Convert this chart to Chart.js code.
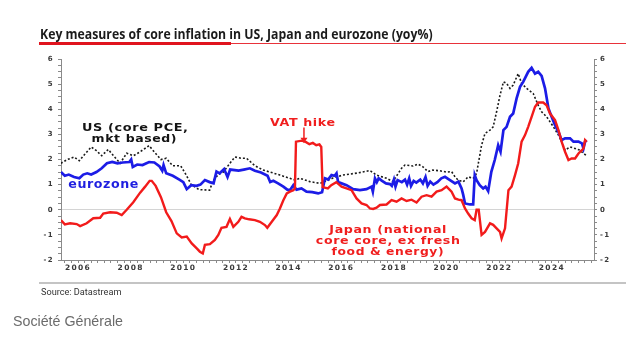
<!DOCTYPE html>
<html><head><meta charset="utf-8">
<script src="https://cdn.jsdelivr.net/npm/chart.js@4.4.1/dist/chart.umd.min.js"></script>
<style>
html,body{margin:0;padding:0;background:#fff;width:640px;height:345px;overflow:hidden;}
#c{position:absolute;left:0;top:0;}
.t{position:absolute;white-space:nowrap;transform-origin:0 50%;}
#title{left:40px;top:26px;font:700 13.5px 'Open Sans',sans-serif;color:#1b1b1b;line-height:16px;}
#src{left:41px;top:285.5px;font:400 9.5px Roboto,sans-serif;color:#333;line-height:11px;}
#sg{left:13px;top:313px;font:400 14.5px 'Liberation Sans',Arial,sans-serif;color:#6b6b6b;line-height:17px;}
#ulThin{position:absolute;left:39px;top:43px;width:587px;height:1px;background:#e8323a;}
#ulThick{position:absolute;left:39px;top:42px;width:192px;height:3px;background:#e0141e;}
#sep{position:absolute;left:39px;top:282px;width:587px;height:2px;background:#c4c4c4;}
</style></head>
<body>
<canvas id="c" width="640" height="345"></canvas>
<div class="t" id="title" data-w="393">Key measures of core inflation in US, Japan and eurozone (yoy%)</div>
<div id="ulThin"></div><div id="ulThick"></div>
<div id="sep"></div>
<div class="t" id="src" data-w="80">Source: Datastream</div>
<div class="t" id="sg" data-w="110">Société Générale</div>
<script>
// ---- data (decimal year, yoy %) ----
const usYears = [2005.35,2005.6,2005.85,2006.05,2006.25,2006.5,2006.7,2006.9,2007.15,2007.35,2007.6,2007.85,2008.1,2008.35,2008.7,2008.9,2009.15,2009.35,2009.6,2009.9,2010.1,2010.3,2010.6,2011.0,2011.13,2011.33,2011.52,2011.77,2011.96,2012.2,2012.4,2012.72,2013.03,2013.3,2013.67,2014.05,2014.24,2014.43,2014.81,2015.19,2015.68,2016.06,2016.6,2017.09,2017.34,2017.72,2017.96,2018.29,2018.42,2018.72,2018.91,2019.1,2019.29,2019.48,2019.75,2020.0,2020.19,2020.32,2020.44,2020.63,2020.82,2021.01,2021.14,2021.33,2021.46,2021.65,2021.77,2021.9,2022.03,2022.16,2022.28,2022.41,2022.53,2022.72,2022.85,2023.04,2023.29,2023.48,2023.61,2023.8,2024.06,2024.25,2024.37,2024.5,2024.69,2024.88,2025.07,2025.2,2025.3];
const usValues = [1.85,2.0,2.1,1.95,2.2,2.5,2.35,2.15,2.4,2.15,1.85,2.25,2.15,2.3,2.55,2.3,2.0,2.05,1.75,1.75,1.4,1.0,0.8,0.78,1.15,1.4,1.5,1.85,2.1,2.05,2.05,1.75,1.58,1.5,1.38,1.25,1.18,1.25,1.12,1.05,1.26,1.38,1.46,1.56,1.38,1.25,1.12,1.65,1.78,1.74,1.82,1.71,1.52,1.58,1.55,1.5,1.52,1.31,1.18,1.11,1.31,1.25,1.45,2.57,3.04,3.17,3.3,3.9,4.56,5.09,5.03,4.83,4.96,5.42,5.03,4.83,4.63,4.16,3.9,3.7,3.3,2.97,2.71,2.37,2.5,2.44,2.37,2.24,2.17];

const ezYears = [2005.35,2005.5,2005.65,2005.85,2006.05,2006.2,2006.35,2006.5,2006.7,2006.9,2007.1,2007.3,2007.5,2007.7,2007.95,2008.02,2008.08,2008.25,2008.45,2008.7,2008.9,2009.1,2009.2,2009.25,2009.35,2009.6,2009.85,2010.0,2010.13,2010.3,2010.5,2010.65,2010.82,2011.0,2011.15,2011.26,2011.38,2011.55,2011.68,2011.78,2012.1,2012.3,2012.53,2012.72,2012.95,2013.2,2013.3,2013.42,2013.6,2013.8,2013.95,2014.05,2014.18,2014.3,2014.49,2014.68,2014.9,2015.12,2015.27,2015.38,2015.5,2015.63,2015.75,2015.82,2015.88,2016.01,2016.2,2016.45,2016.71,2016.96,2017.15,2017.2,2017.28,2017.35,2017.42,2017.55,2017.7,2017.85,2017.92,2018.0,2018.06,2018.14,2018.3,2018.42,2018.5,2018.58,2018.65,2018.75,2018.85,2019.0,2019.1,2019.2,2019.28,2019.38,2019.5,2019.65,2019.8,2019.94,2020.1,2020.32,2020.45,2020.57,2020.63,2020.7,2020.89,2021.01,2021.07,2021.14,2021.26,2021.39,2021.48,2021.58,2021.7,2021.83,2021.96,2022.05,2022.16,2022.28,2022.41,2022.53,2022.66,2022.79,2022.91,2023.1,2023.23,2023.36,2023.48,2023.61,2023.74,2023.87,2023.99,2024.12,2024.25,2024.37,2024.5,2024.69,2024.82,2025.01,2025.14,2025.2,2025.26,2025.32];
const ezValues = [1.5,1.35,1.4,1.3,1.25,1.4,1.45,1.4,1.5,1.65,1.85,1.9,1.85,1.88,1.9,2.0,1.7,1.8,1.78,1.9,1.88,1.72,1.55,1.78,1.45,1.35,1.2,1.1,0.82,0.98,0.95,1.0,1.18,1.1,1.05,1.52,1.45,1.62,1.3,1.6,1.56,1.6,1.65,1.55,1.48,1.35,1.1,1.15,1.05,0.92,0.8,0.78,0.98,0.8,0.85,0.72,0.7,0.65,0.7,1.25,1.2,1.38,1.35,1.45,1.1,1.05,0.98,0.82,0.78,0.82,0.92,0.72,1.25,1.1,1.25,1.15,1.05,1.02,0.95,1.2,0.92,1.18,1.1,1.2,1.0,1.25,0.95,1.15,1.08,1.2,1.05,1.3,0.95,1.12,1.0,1.1,1.25,1.31,1.2,1.05,1.12,0.85,0.6,0.25,0.21,0.21,1.38,1.18,0.98,0.85,0.92,0.74,1.51,1.98,2.57,2.31,3.17,3.3,3.7,3.83,4.43,4.89,5.09,5.49,5.65,5.42,5.49,5.33,4.83,4.03,3.7,3.37,3.1,2.77,2.84,2.84,2.71,2.71,2.64,2.44,2.71,2.77];

const jpYears = [2005.35,2005.5,2005.7,2005.95,2006.08,2006.33,2006.58,2006.84,2006.96,2007.22,2007.47,2007.66,2007.85,2008.1,2008.36,2008.55,2008.72,2008.8,2008.95,2009.15,2009.35,2009.55,2009.75,2009.94,2010.13,2010.32,2010.51,2010.63,2010.74,2010.82,2011.01,2011.2,2011.33,2011.45,2011.64,2011.77,2011.9,2012.09,2012.21,2012.34,2012.5,2012.72,2012.91,2013.1,2013.19,2013.36,2013.55,2013.67,2013.8,2013.93,2014.05,2014.18,2014.24,2014.28,2014.5,2014.65,2014.79,2014.92,2015.05,2015.17,2015.24,2015.29,2015.49,2015.62,2015.81,2015.92,2016.01,2016.2,2016.39,2016.58,2016.77,2016.96,2017.09,2017.21,2017.34,2017.47,2017.72,2017.91,2018.1,2018.29,2018.48,2018.67,2018.86,2019.05,2019.24,2019.43,2019.62,2019.81,2020.0,2020.19,2020.32,2020.45,2020.57,2020.7,2020.82,2020.95,2021.07,2021.14,2021.22,2021.33,2021.46,2021.65,2021.77,2021.9,2022.03,2022.09,2022.22,2022.35,2022.47,2022.6,2022.72,2022.85,2022.98,2023.1,2023.23,2023.36,2023.48,2023.67,2023.8,2023.93,2024.12,2024.25,2024.37,2024.5,2024.63,2024.75,2024.88,2025.01,2025.14,2025.2,2025.26,2025.32];
const jpValues = [-0.41,-0.58,-0.54,-0.57,-0.65,-0.54,-0.34,-0.32,-0.15,-0.1,-0.12,-0.21,0.0,0.3,0.68,0.92,1.15,1.15,0.95,0.5,-0.1,-0.45,-0.94,-1.1,-1.07,-1.34,-1.54,-1.67,-1.74,-1.4,-1.37,-1.2,-1.0,-0.72,-0.68,-0.37,-0.68,-0.48,-0.28,-0.34,-0.38,-0.41,-0.48,-0.61,-0.72,-0.48,-0.21,0.05,0.38,0.65,0.72,0.78,0.85,2.71,2.75,2.7,2.61,2.66,2.57,2.6,2.5,0.9,0.85,0.98,1.1,1.0,0.92,0.85,0.78,0.45,0.25,0.19,0.05,0.03,0.08,0.19,0.21,0.38,0.32,0.45,0.35,0.4,0.29,0.52,0.58,0.52,0.72,0.78,0.92,0.72,0.45,0.4,0.38,0.05,-0.15,-0.34,-0.41,0.0,0.0,-1.0,-0.88,-0.54,-0.6,-0.74,-0.88,-1.14,-0.74,0.78,0.92,1.38,1.84,2.71,2.97,3.3,3.7,4.1,4.27,4.27,4.16,3.83,3.57,3.17,2.71,2.31,1.98,2.04,2.04,2.24,2.37,2.44,2.77,2.7];

const xTickYears = [2006,2008,2010,2012,2014,2016,2018,2020,2022,2024];
const yTickValues = [-2,-1,0,1,2,3,4,5,6];

// ---- annotations (data coordinates) ----
const textNotes = [
  {text:'US (core PCE,', x:2008.165, y:3.13, color:'#141414', size:10.5, width:106},
  {text:'mkt based)', x:2008.13, y:2.69, color:'#141414', size:10.5, width:85},
  {text:'eurozone', x:2006.96, y:0.87, color:'#1f1fe0', size:11.5, width:70},
  {text:'VAT hike', x:2014.53, y:3.33, color:'#f01e1e', size:10.5, width:65},
  {text:'Japan (national', x:2017.77, y:-0.93, color:'#f01e1e', size:10.5, width:117},
  {text:'core core, ex fresh', x:2017.77, y:-1.38, color:'#f01e1e', size:10.5, width:144},
  {text:'food & energy)', x:2017.76, y:-1.82, color:'#f01e1e', size:10.5, width:112}
];
const vatArrow = {x:2014.583, from:3.27, to:2.645, color:'#f01e1e'};

// fit HTML texts to measured widths
document.querySelectorAll('.t').forEach(el => {
  const w = +el.dataset.w; const k = w / el.offsetWidth;
  el.style.transform = 'scaleX(' + k + ')';
});

const pts = (xs, ys) => xs.map((x, i) => ({x, y: ys[i]}));
const isInt = v => Math.abs(v - Math.round(v)) < 1e-6;

const annotPlugin = {
  id: 'annot',
  beforeDraw(chart) { chart.ctx.letterSpacing = '1.3px'; },
  afterDatasetsDraw(chart) {
    const ctx = chart.ctx, xs = chart.scales.x, ys = chart.scales.y;
    ctx.save();
    ctx.textAlign = 'left';
    ctx.textBaseline = 'alphabetic';
    for (const a of textNotes) {
      ctx.font = 'bold ' + a.size + "px 'DejaVu Sans', sans-serif";
      ctx.letterSpacing = '0.5px';
      const natural = ctx.measureText(a.text).width - 0.5;
      const k = a.width / natural;
      ctx.save();
      ctx.translate(xs.getPixelForValue(a.x) - a.width / 2, ys.getPixelForValue(a.y));
      ctx.scale(k, 1);
      ctx.fillStyle = a.color;
      ctx.fillText(a.text, 0, 0);
      ctx.restore();
    }
    const ax = xs.getPixelForValue(vatArrow.x);
    const y0 = ys.getPixelForValue(vatArrow.from), y1 = ys.getPixelForValue(vatArrow.to);
    ctx.strokeStyle = vatArrow.color; ctx.fillStyle = vatArrow.color; ctx.lineWidth = 1.5;
    ctx.beginPath(); ctx.moveTo(ax, y0); ctx.lineTo(ax, y1 - 4); ctx.stroke();
    ctx.beginPath(); ctx.moveTo(ax - 3.5, y1 - 5.5); ctx.lineTo(ax + 3.5, y1 - 5.5); ctx.lineTo(ax, y1); ctx.closePath(); ctx.fill();
    ctx.restore();
  }
};

const tickFont = {family: "'DejaVu Sans', sans-serif", weight: 'bold', size: 7};
const yAxis = (pos, width) => ({
  type: 'linear', position: pos, min: -2, max: 6,
  afterBuildTicks: ax => { const t = []; for (let i = 0; i <= 32; i++) t.push({value: -2 + i * 0.25}); ax.ticks = t; },
  afterFit: s => { s.width = width; },
  ticks: {autoSkip: false, padding: pos === 'left' ? 4 : 3, color: '#3a3a3a', font: tickFont,
    callback: v => (isInt(v) && yTickValues.includes(Math.round(v))) ? String(Math.round(v)) : ''},
  grid: {
    drawOnChartArea: pos === 'left',
    color: c => (c.tick && isInt(c.tick.value) && Math.round(c.tick.value) === 0) ? '#d4d4d4' : 'rgba(0,0,0,0)',
    tickColor: '#8a8a8a', tickLength: 3, lineWidth: 1
  },
  border: {display: true, color: '#8a8a8a', width: 1}
});

new Chart(document.getElementById('c'), {
  type: 'line',
  data: {
    datasets: [
      {label: 'Japan', data: pts(jpYears, jpValues), borderColor: '#f21b1b', borderWidth: 2.4, pointRadius: 0, tension: 0, yAxisID: 'y'},
      {label: 'Eurozone', data: pts(ezYears, ezValues), borderColor: '#1c1ce6', borderWidth: 2.7, pointRadius: 0, tension: 0, yAxisID: 'y'},
      {label: 'US', data: pts(usYears, usValues), borderColor: '#1a1a1a', borderWidth: 1.6, borderDash: [2, 2], pointRadius: 0, tension: 0, yAxisID: 'y'}
    ]
  },
  options: {
    responsive: false, animation: false, devicePixelRatio: 1,
    layout: {padding: {top: 59, bottom: 65, left: 0, right: 0}},
    plugins: {legend: {display: false}, tooltip: {enabled: false}, title: {display: false}},
    scales: {
      x: {
        type: 'linear', min: 2005.354, max: 2025.6,
        afterBuildTicks: ax => { const t = []; for (let i = 0; i <= 80; i++) t.push({value: 2005.5 + i * 0.25}); ax.ticks = t; },
        afterFit: s => { s.height = 20; },
        ticks: {autoSkip: false, maxRotation: 0, minRotation: 0, padding: 1, color: '#3a3a3a', font: {family: "'DejaVu Sans', sans-serif", weight: 'bold', size: 7.5},
          callback: v => xTickYears.includes(v) ? String(v) : ''},
        grid: {drawOnChartArea: false, tickColor: '#8a8a8a', tickLength: 3},
        border: {display: true, color: '#8a8a8a', width: 1}
      },
      y: yAxis('left', 61),
      y2: yAxis('right', 46)
    }
  },
  plugins: [annotPlugin]
});
</script>
</body></html>
